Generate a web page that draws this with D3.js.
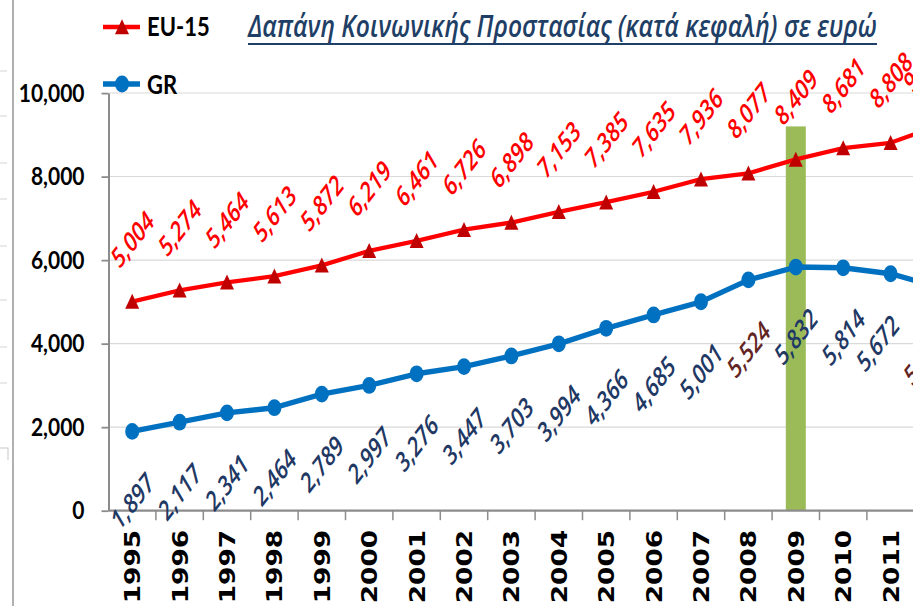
<!DOCTYPE html>
<html>
<head>
<meta charset="utf-8">
<script src="https://cdn.jsdelivr.net/npm/d3@7/dist/d3.min.js"></script>
<style>
body { margin: 0; background: #fff; }
svg { display: block; }
</style>
</head>
<body>
<script>
// data
var years = [1995, 1996, 1997, 1998, 1999, 2000, 2001, 2002, 2003, 2004, 2005, 2006, 2007, 2008, 2009, 2010, 2011, 2012];
var eu15 = [5004, 5274, 5464, 5613, 5872, 6219, 6461, 6726, 6898, 7153, 7385, 7635, 7936, 8077, 8409, 8681, 8808, 9210];
var gr = [1897, 2117, 2341, 2464, 2789, 2997, 3276, 3447, 3703, 3994, 4366, 4685, 5001, 5524, 5832, 5814, 5672, 5350];
var grBrownYears = [2008, 2012];
var highlightYear = 2009;
var highlightValue = 9200;
var yTicks = [0, 2000, 4000, 6000, 8000, 10000];
var seriesNames = ["EU-15", "GR"];
var titleText = "Δαπάνη Κοινωνικής Προστασίας (κατά κεφαλή) σε ευρώ";

// the picture is stretched vertically, so draw in a squashed viewBox
var W = 913, H = 606, stretch = 1.2, VH = H / stretch;

var svg = d3.select("body").append("svg")
    .attr("width", W)
    .attr("height", H)
    .attr("viewBox", "0 0 " + W + " " + VH)
    .attr("preserveAspectRatio", "none");

var bw = 47.4, x0 = 108.5;
var x = d3.scaleBand()
    .domain(years)
    .range([x0, x0 + bw * years.length]);
var y = d3.scaleLinear()
    .domain([0, 10000])
    .range([425.5, 77.5]);
var cx = function(d) { return x(d) + x.bandwidth() / 2; };
var fmt = d3.format(",");

// neighbouring frame on the left edge
svg.append("line")
    .attr("x1", 13).attr("x2", 13).attr("y1", 0).attr("y2", VH)
    .attr("stroke", "#b0b0b0").attr("stroke-width", 2);
svg.selectAll("line.side")
    .data([71, 116, 163, 199, 246, 300, 347, 383])
    .enter().append("line")
    .attr("class", "side")
    .attr("x1", 0).attr("x2", 7)
    .attr("y1", function(d) { return d / stretch; })
    .attr("y2", function(d) { return d / stretch; })
    .attr("stroke", "#dcdcdc");
svg.append("path")
    .attr("d", "M0," + (448 / stretch) + "H8V" + (460 / stretch))
    .attr("fill", "none").attr("stroke", "#c8c8c8");

// gridlines
svg.selectAll("line.grid")
    .data(yTicks.slice(1))
    .enter().append("line")
    .attr("class", "grid")
    .attr("x1", x0).attr("x2", W)
    .attr("y1", y).attr("y2", y)
    .attr("stroke", "#d9d9d9").attr("stroke-width", 1);

// highlight bar for 2009
var hw = 20;
svg.append("rect")
    .attr("x", cx(highlightYear) - hw / 2)
    .attr("width", hw)
    .attr("y", y(highlightValue))
    .attr("height", y(0) - y(highlightValue))
    .attr("fill", "#9bbb59");

// y axis
var yAxis = d3.axisLeft(y)
    .tickValues(yTicks)
    .tickFormat(fmt)
    .tickSizeInner(7)
    .tickSizeOuter(0)
    .tickPadding(17);
var gy = svg.append("g")
    .attr("transform", "translate(" + x0 + ",0)")
    .call(yAxis);
gy.select(".domain").attr("stroke", "#8c8c8c").attr("stroke-width", 2);
gy.selectAll(".tick line").attr("stroke", "#8c8c8c").attr("stroke-width", 1.5);
gy.selectAll(".tick text")
    .attr("font-family", "Lato, sans-serif")
    .attr("font-weight", "bold")
    .attr("font-size", 21)
    .attr("fill", "#000");

// x axis: line, boundary ticks, rotated year labels
var gx = svg.append("g")
    .attr("transform", "translate(0," + y(0) + ")");
gx.append("line")
    .attr("x1", x0).attr("x2", W)
    .attr("stroke", "#8c8c8c").attr("stroke-width", 2);
gx.selectAll("line.tk")
    .data(years)
    .enter().append("line")
    .attr("class", "tk")
    .attr("x1", function(d) { return x(d) + bw; })
    .attr("x2", function(d) { return x(d) + bw; })
    .attr("y1", 0).attr("y2", 8)
    .attr("stroke", "#8c8c8c").attr("stroke-width", 1.5);
gx.selectAll("text")
    .data(years)
    .enter().append("text")
    .attr("transform", function(d) { return "translate(" + cx(d) + ",16) rotate(-90)"; })
    .attr("dy", "0.36em")
    .attr("text-anchor", "end")
    .attr("font-family", "DejaVu Sans, sans-serif")
    .attr("font-weight", "bold")
    .attr("font-size", 22)
    .attr("fill", "#000")
    .text(function(d) { return d; });

// lines
var line = d3.line()
    .x(function(d, i) { return cx(years[i]); })
    .y(function(d) { return y(d); });

svg.append("path")
    .datum(eu15)
    .attr("d", line)
    .attr("fill", "none")
    .attr("stroke", "#ff0000")
    .attr("stroke-width", 3.6)
    .attr("stroke-linejoin", "round");

svg.append("path")
    .datum(gr)
    .attr("d", line)
    .attr("fill", "none")
    .attr("stroke", "#0070c0")
    .attr("stroke-width", 4.5)
    .attr("stroke-linejoin", "round");

var tri = "M0,-6.5L7,6L-7,6Z";

svg.selectAll("path.tri")
    .data(eu15)
    .enter().append("path")
    .attr("class", "tri")
    .attr("d", tri)
    .attr("transform", function(d, i) { return "translate(" + cx(years[i]) + "," + y(d) + ")"; })
    .attr("fill", "#c00000");

svg.selectAll("circle.dot")
    .data(gr)
    .enter().append("circle")
    .attr("class", "dot")
    .attr("cx", function(d, i) { return cx(years[i]); })
    .attr("cy", function(d) { return y(d); })
    .attr("r", 7)
    .attr("fill", "#0070c0");

// data labels, rotated; labels near the right edge are pulled in like Excel does
var labelSize = 22;
var pullIn = function(yr, isGr) {
    if (yr === years[years.length - 1]) return -13;
    if (isGr && yr === years[years.length - 2]) return -13;
    return 0;
};
function labels(data, off, colour, isGr) {
    svg.selectAll(null)
        .data(data)
        .enter().append("text")
        .attr("transform", function(d, i) {
            return "translate(" + (cx(years[i]) + pullIn(years[i], isGr)) + "," + (y(d) + off) + ") rotate(-47)";
        })
        .attr("dy", "0.36em")
        .attr("text-anchor", "middle")
        .attr("font-family", "'Open Sans', sans-serif")
        .attr("font-style", "italic")
        .attr("font-weight", 600)
        .attr("font-size", labelSize)
        .attr("textLength", function(d) { return labelSize * (fmt(d).length * 0.5 - 0.1); })
        .attr("lengthAdjust", "spacingAndGlyphs")
        .attr("fill", colour)
        .text(fmt);
}
labels(eu15, -52, function() { return "#ff0000"; }, false);
labels(gr, 58, function(d, i) {
    return grBrownYears.indexOf(years[i]) >= 0 ? "#632523" : "#1f3864";
}, true);

// legend
var legend = svg.append("g");
var lg = [
    { name: seriesNames[0], y: 27 / stretch, colour: "#ff0000", mark: "#c00000" },
    { name: seriesNames[1], y: 84 / stretch, colour: "#0070c0", mark: "#0070c0" }
];
lg.forEach(function(d, i) {
    legend.append("line")
        .attr("x1", 103).attr("x2", 140)
        .attr("y1", d.y).attr("y2", d.y)
        .attr("stroke", d.colour).attr("stroke-width", i ? 4.5 : 3.6);
    if (i === 0) {
        legend.append("path").attr("d", tri)
            .attr("transform", "translate(122," + d.y + ")")
            .attr("fill", d.mark);
    } else {
        legend.append("circle").attr("cx", 122).attr("cy", d.y).attr("r", 7)
            .attr("fill", d.mark);
    }
    legend.append("text")
        .attr("x", 147).attr("y", d.y)
        .attr("dy", "0.36em")
        .attr("font-family", "Lato, sans-serif")
        .attr("font-weight", "bold")
        .attr("font-size", 22)
        .attr("fill", "#000")
        .text(d.name);
});

// title, underlined
svg.append("text")
    .attr("x", 248).attr("y", 37 / stretch)
    .attr("textLength", 629)
    .attr("lengthAdjust", "spacingAndGlyphs")
    .attr("font-family", "'Open Sans', sans-serif")
    .attr("font-style", "italic")
    .attr("font-weight", 600)
    .attr("font-size", 25)
    .attr("fill", "#1f3f66")
    .text(titleText);
svg.append("line")
    .attr("x1", 248).attr("x2", 877)
    .attr("y1", 44 / stretch).attr("y2", 44 / stretch)
    .attr("stroke", "#1f3f66").attr("stroke-width", 1.7);
</script>
</body>
</html>
